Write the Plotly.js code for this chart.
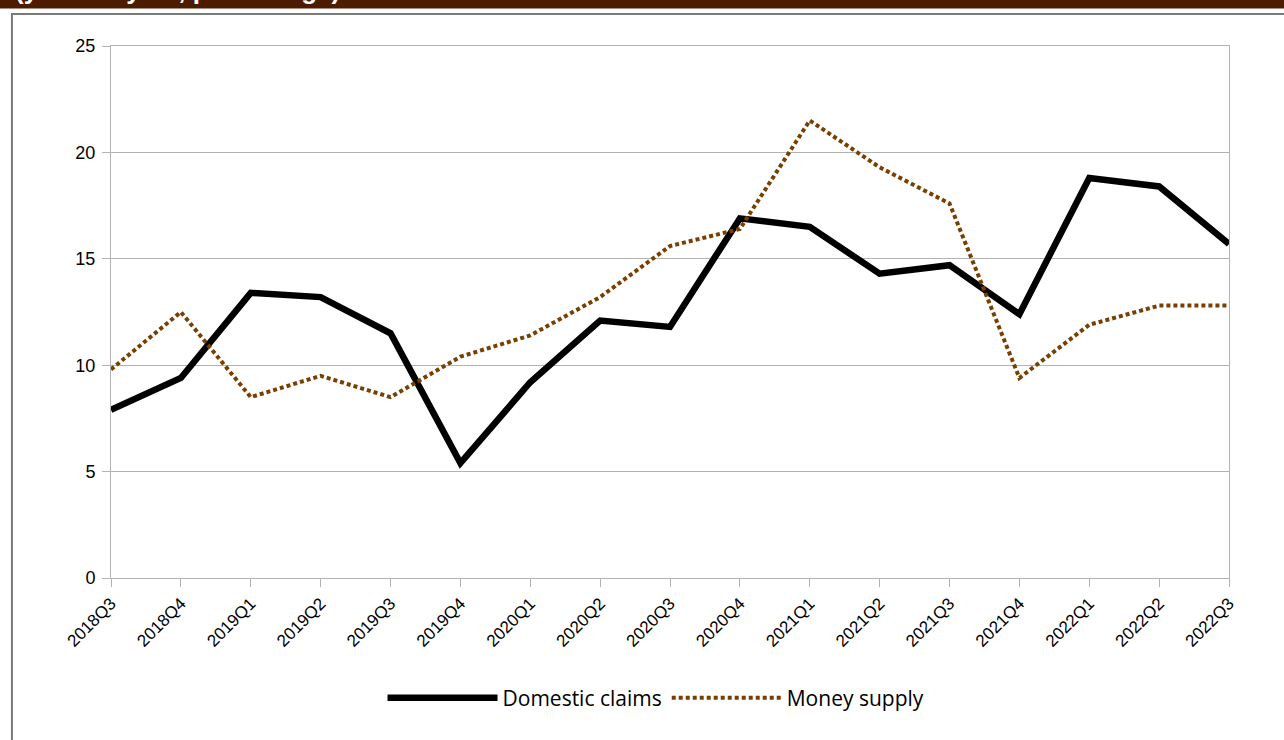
<!DOCTYPE html>
<html>
<head>
<meta charset="utf-8">
<script src="https://cdn.plot.ly/plotly-3.0.1.min.js"></script>
<style>
  html, body { margin: 0; padding: 0; background: #ffffff; }
  #chart { width: 1284px; height: 740px; }
</style>
</head>
<body>
<div id="chart"></div>
<script>
const quarters = ["2018Q3","2018Q4","2019Q1","2019Q2","2019Q3","2019Q4","2020Q1","2020Q2","2020Q3","2020Q4","2021Q1","2021Q2","2021Q3","2021Q4","2022Q1","2022Q2","2022Q3"];
const domesticClaims = [7.9, 9.4, 13.4, 13.2, 11.5, 5.4, 9.2, 12.1, 11.8, 16.9, 16.5, 14.3, 14.7, 12.4, 18.8, 18.4, 15.7];
const moneySupply = [9.8, 12.5, 8.5, 9.5, 8.5, 10.4, 11.4, 13.2, 15.6, 16.4, 21.5, 19.3, 17.6, 9.4, 11.9, 12.8, 12.8];
const yTicks = [0, 5, 10, 15, 20, 25];
const seriesNames = ["Domestic claims", "Money supply"];
const subtitle = "(year-on-year, percentage)";

const axisFont = "'Liberation Sans', Arial, Helvetica, sans-serif";

const traces = [
  {
    x: quarters, y: domesticClaims, name: seriesNames[0], type: "scatter", mode: "lines",
    line: { color: "#000000", width: 6.5 }
  },
  {
    x: quarters, y: moneySupply, name: seriesNames[1], type: "scatter", mode: "lines",
    line: { color: "#7a3f00", width: 4, dash: "4px,3px" }
  }
];

const layout = {
  width: 1284, height: 740,
  margin: { l: 111, r: 55, t: 46, b: 162, pad: 0 },
  paper_bgcolor: "#ffffff", plot_bgcolor: "#ffffff",
  showlegend: true,
  xaxis: {
    type: "category", range: [0, quarters.length - 1],
    showgrid: false, showline: true, linecolor: "#b3b3b3", linewidth: 1, mirror: true,
    ticks: "outside", ticklen: 8, tickcolor: "#b3b3b3", tickwidth: 1,
    tickangle: -45, tickfont: { family: axisFont, size: 17, color: "#000" },
    zeroline: false, fixedrange: true
  },
  yaxis: {
    range: [0, 25], tickvals: yTicks, ticktext: yTicks.map(String),
    showgrid: true, gridcolor: "#b3b3b3", gridwidth: 1,
    showline: true, linecolor: "#b3b3b3", linewidth: 1, mirror: true,
    ticks: "outside", ticklen: 8, tickcolor: "#b3b3b3", tickwidth: 1,
    ticklabelstandoff: 3,
    tickfont: { family: axisFont, size: 18, color: "#000" },
    zeroline: false, fixedrange: true
  },
  legend: {
    orientation: "h", x: 0.4875, xanchor: "center", y: -0.2256, yanchor: "middle",
    font: { family: "'Open Sans', Lato, sans-serif", size: 21, color: "#000" },
    itemwidth: 110, tracegroupgap: 0, bgcolor: "rgba(0,0,0,0)"
  },
  shapes: [
    { type: "rect", xref: "paper", yref: "paper", x0: -0.2, x1: 1.2, y0: 1.0705, y1: 1.3,
      fillcolor: "#4c1b00", line: { width: 0 }, layer: "above" },
    { type: "rect", xref: "paper", yref: "paper", x0: -0.0886, x1: 1.1, y0: -0.4, y1: 1.0602,
      fillcolor: "rgba(0,0,0,0)", line: { color: "#7a7a7a", width: 2 }, layer: "below" }
  ],
  annotations: [
    { text: "<b>" + subtitle + "</b>", xref: "paper", yref: "paper",
      x: -0.0876, y: 1.0735, xanchor: "left", yanchor: "bottom", showarrow: false,
      font: { family: axisFont, size: 26, color: "#ffffff" } }
  ]
};

Plotly.newPlot("chart", traces, layout, { displayModeBar: false, staticPlot: true });
</script>
</body>
</html>
